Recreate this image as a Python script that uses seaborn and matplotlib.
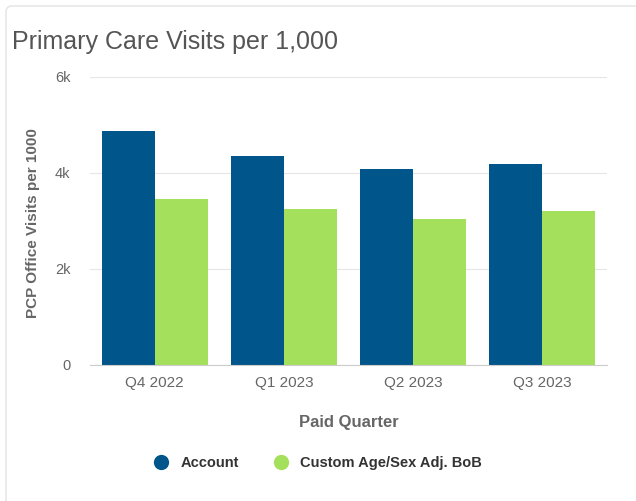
import matplotlib
matplotlib.use("Agg")
import matplotlib.pyplot as plt
from matplotlib.lines import Line2D
from matplotlib.patches import FancyBboxPatch
import matplotlib.ticker as mticker
import pandas as pd
import seaborn as sns

# ── Data ───────────────────────────────────────────────────────────────────
quarters = ["Q4 2022", "Q1 2023", "Q2 2023", "Q3 2023"]
account = [4870, 4360, 4080, 4190]
bob = [3450, 3240, 3050, 3200]
series_names = ["Account", "Custom Age/Sex Adj. BoB"]

# ── Style ──────────────────────────────────────────────────────────────────
sns.set_theme(style="white")
plt.rcParams["font.family"] = ["Liberation Sans", "DejaVu Sans"]
COLORS = {"Account": "#00568A", "Custom Age/Sex Adj. BoB": "#A4E05B"}
GRID = "#e6e6e6"
AXIS = "#cccccc"
TEXT = "#666666"

df = pd.DataFrame({
    "quarter": quarters * 2,
    "series": [series_names[0]] * len(quarters) + [series_names[1]] * len(quarters),
    "value": account + bob,
})

W, H = 636, 501
fig = plt.figure(figsize=(W / 100, H / 100), dpi=100)
ax = fig.add_axes([90 / W, 1 - 365 / H, 517 / W, 288 / H])

sns.barplot(data=df, x="quarter", y="value", hue="series", order=quarters,
            hue_order=series_names, palette=COLORS, width=0.82, saturation=1,
            linewidth=0, legend=False, ax=ax)

# axes & grid
ax.set_ylim(0, 6000)
ax.set_xlim(-0.5, len(quarters) - 0.5)
ax.set_yticks([0, 2000, 4000, 6000])
ax.yaxis.set_major_formatter(mticker.FuncFormatter(
    lambda v, _: "0" if v == 0 else f"{int(v / 1000)}k"))
ax.yaxis.grid(True, color=GRID, linewidth=0.8)
ax.set_axisbelow(True)
for side in ["top", "right", "left"]:
    ax.spines[side].set_visible(False)
ax.spines["bottom"].set_color(AXIS)
ax.spines["bottom"].set_linewidth(0.8)

ax.tick_params(axis="y", length=0, pad=14, labelsize=10.5, labelcolor=TEXT)
ax.tick_params(axis="x", which="major", length=0, pad=8, labelsize=11, labelcolor=TEXT)
ax.set_xticks([i - 0.5 for i in range(len(quarters) + 1)], minor=True)
ax.tick_params(axis="x", which="minor", length=9.5, width=0.8, color=AXIS)

ax.set_xlabel("Paid Quarter", fontsize=12, fontweight="bold", color=TEXT)
ax.xaxis.set_label_coords(0.5, (365 - 423) / 288)
ax.xaxis.label.set_va("center")
ax.set_ylabel("PCP Office Visits per 1000", fontsize=11, fontweight="bold", color=TEXT)
ax.yaxis.set_label_coords((33 - 90) / 517, (365 - 223) / 288)
ax.yaxis.label.set_va("center")

# title
fig.text(12 / W, 1 - 42 / H, "Primary Care Visits per 1,000", fontsize=18,
         color="#555555", ha="left", va="center")

# legend
handles = [Line2D([], [], linestyle="none", marker="o", markersize=11,
                  markerfacecolor=COLORS[s], markeredgewidth=0) for s in series_names]
leg = fig.legend(handles, series_names, loc="center", ncol=2, frameon=False,
                 bbox_to_anchor=(318 / W, 1 - 463 / H), fontsize=10.5,
                 handlelength=1.0, handletextpad=0.8, columnspacing=2.4)
for t in leg.get_texts():
    t.set_fontweight("bold")
    t.set_color("#333333")

# card border (top + left edges visible)
card = FancyBboxPatch((6 / 100, -0.5), 7.0, (H - 6) / 100 + 0.5,
                      boxstyle="round,pad=0,rounding_size=0.06",
                      transform=fig.dpi_scale_trans, facecolor="none",
                      edgecolor="#e3e3e3", linewidth=1.0)
fig.add_artist(card)

fig.savefig("out.png", dpi=100)
